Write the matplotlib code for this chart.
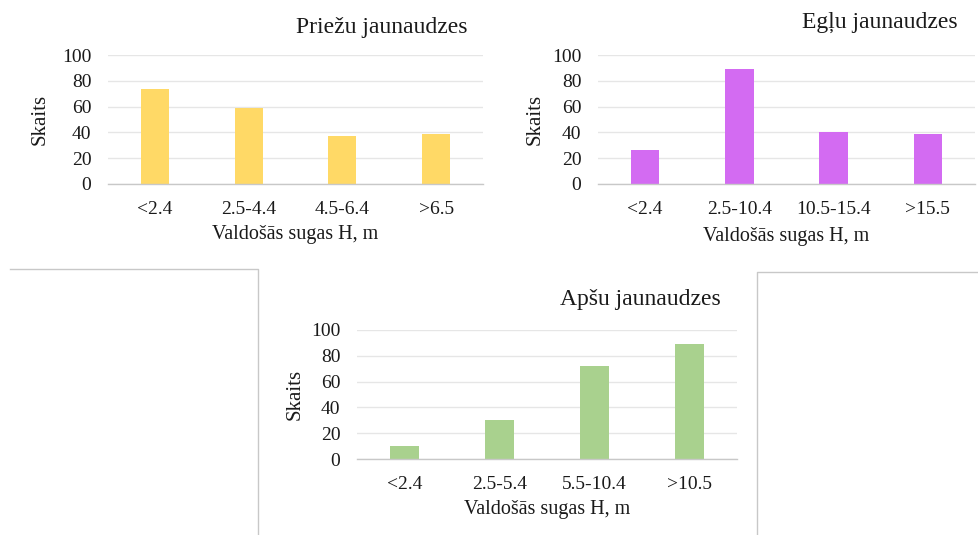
import matplotlib
matplotlib.use("Agg")
import matplotlib.pyplot as plt
from matplotlib.lines import Line2D

# =========================================================
# Data
# =========================================================
PRIEDE_CATS = ["<2.4", "2.5-4.4", "4.5-6.4", ">6.5"]
PRIEDE_VALS = [74, 59, 37, 39]

EGLE_CATS = ["<2.4", "2.5-10.4", "10.5-15.4", ">15.5"]
EGLE_VALS = [26, 89, 40, 39]

APSE_CATS = ["<2.4", "2.5-5.4", "5.5-10.4", ">10.5"]
APSE_VALS = [10, 30, 72, 89]

YTICKS = [0, 20, 40, 60, 80, 100]
XLABEL = "Valdošās sugas H, m"
YLABEL = "Skaits"

plt.rcParams["font.family"] = ["Liberation Serif", "DejaVu Serif"]

W, H = 979, 535


def px_axes(fig, x0, y0, x1, y1):
    return fig.add_axes([x0 / W, (H - y1) / H, (x1 - x0) / W, (y1 - y0) / H])


def draw_panel(ax, cats, vals, color, title, title_xy, ylab_x, xlab_y):
    x = range(len(cats))
    ax.bar(x, vals, width=0.3, color=color, zorder=2)
    ax.set_xlim(-0.5, len(cats) - 0.5)
    ax.set_ylim(0, 100)
    ax.set_yticks(YTICKS)
    ax.set_xticks(list(x))
    ax.set_xticklabels(cats)
    ax.tick_params(axis="both", length=0, labelsize=14, colors="#1a1a1a")
    ax.tick_params(axis="y", pad=12)
    ax.tick_params(axis="x", pad=12)
    ax.grid(axis="y", color="#e6e6e6", linewidth=1.0, zorder=0)
    for s in ["top", "right", "left"]:
        ax.spines[s].set_visible(False)
    ax.spines["bottom"].set_color("#c8c8c8")
    ax.spines["bottom"].set_linewidth(1.0)
    ax.set_ylabel(YLABEL, fontsize=15, color="#1a1a1a", va="center")
    ax.yaxis.set_label_coords(ylab_x, 0.5)
    ax.set_xlabel(XLABEL, fontsize=14.5, color="#1a1a1a", va="center")
    ax.xaxis.set_label_coords(0.5, xlab_y)
    ax.text(title_xy[0], title_xy[1], title, transform=ax.transAxes,
            ha="center", va="center", fontsize=17, color="#1a1a1a")


fig = plt.figure(figsize=(W / 100, H / 100), dpi=100)

ax1 = px_axes(fig, 108, 55, 483, 184)
draw_panel(ax1, PRIEDE_CATS, PRIEDE_VALS, "#FFD966", "Priežu jaunaudzes",
           (0.73, 1.217), -0.181, -0.395)

ax2 = px_axes(fig, 598, 55, 975, 184)
draw_panel(ax2, EGLE_CATS, EGLE_VALS, "#D36BF2", "Egļu jaunaudzes",
           (0.748, 1.255), -0.167, -0.41)

ax3 = px_axes(fig, 357, 330, 737, 459)
draw_panel(ax3, APSE_CATS, APSE_VALS, "#A9D18E", "Apšu jaunaudzes",
           (0.745, 1.24), -0.163, -0.395)

# border lines around the lower chart
border = "#c8c8c8"
fig.add_artist(Line2D([10 / W, 258 / W, 258 / W], [(H - 269) / H, (H - 269) / H, 0],
                      transform=fig.transFigure, color=border, linewidth=1.0))
fig.add_artist(Line2D([W / W, 757 / W, 757 / W], [(H - 272) / H, (H - 272) / H, 0],
                      transform=fig.transFigure, color=border, linewidth=1.0))

fig.savefig("out.png", dpi=100)
